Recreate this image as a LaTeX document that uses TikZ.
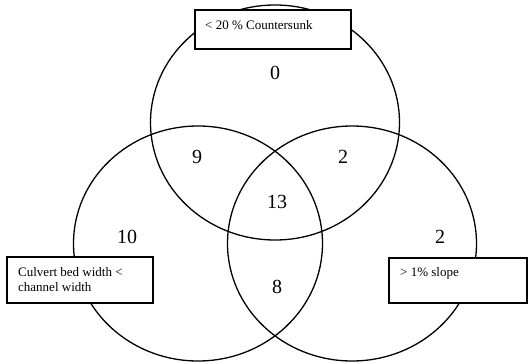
\documentclass[tikz,border=0pt]{standalone}
\usepackage{fontspec}
\setmainfont{Liberation Serif}
\usetikzlibrary{shapes.geometric}
\begin{document}
\begin{tikzpicture}[x=1pt,y=-1pt,
  setc/.style={draw, line width=1.3pt, ellipse, minimum width=249pt, minimum height=235pt, inner sep=0pt},
  lbox/.style={draw, line width=1.3pt, fill=white, rectangle, inner sep=0pt},
  ltext/.style={anchor=west, inner sep=0pt, align=left, font=\fontsize{13}{15}\selectfont},
  num/.style={inner sep=0pt, font=\fontsize{20}{22}\selectfont}]
\useasboundingbox (0,0) rectangle (531,364);
\node[setc] (top) at (275,122.5) {};
\node[setc] (left) at (198,243.5) {};
\node[setc] (right) at (352,243.5) {};
\node[lbox, minimum width=156pt, minimum height=39pt] (topbox) at (273,29.5) {};
\node[lbox, minimum width=146pt, minimum height=46pt] (leftbox) at (80,280) {};
\node[lbox, minimum width=138pt, minimum height=45pt] (rightbox) at (458,280.5) {};
\node[ltext] (toptext) at (205,25) {< 20 \% Countersunk};
\node[ltext] (lefttext) at (18,280) {Culvert bed width <\\channel width};
\node[ltext] (righttext) at (400,273) {> 1\% slope};
\node[num] (n0) at (275,73) {0};
\node[num] (n9) at (197,157) {9};
\node[num] (n2a) at (343,157) {2};
\node[num] (n13) at (277,202) {13};
\node[num] (n10) at (127,237) {10};
\node[num] (n8) at (277,287) {8};
\node[num] (n2b) at (440,237) {2};
\end{tikzpicture}
\end{document}
